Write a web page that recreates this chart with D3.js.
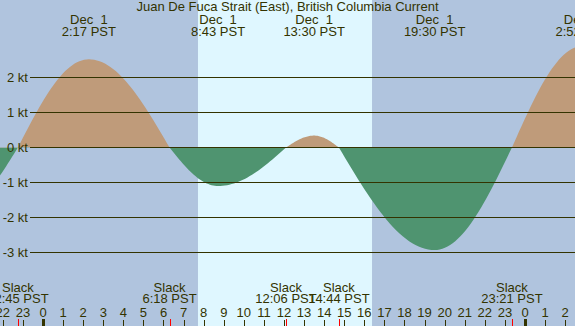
<!DOCTYPE html>
<html>
<head>
<meta charset="utf-8">
<script src="https://cdn.jsdelivr.net/npm/d3@7"></script>
<style>
  body { margin: 0; background: #b0c4de; }
  svg { display: block; }
  text { font-family: "Liberation Sans", Arial, sans-serif; font-size: 13px; fill: #333300; white-space: pre; }
</style>
</head>
<body>
<script>
// tide current events (hours from midnight Dec 1, PST)
const eventHours = [-4.2, -1.25, 2.283, 6.3, 8.717, 12.1, 13.5, 14.733, 19.5, 23.35, 26.87];
const eventKts   = [-1.75, 0, 2.52, 0, -1.1, 0, 0.34, 0, -2.93, 0, 2.9];
const eventDays  = ["Nov 30", "Nov 30", "Dec  1", "Dec  1", "Dec  1", "Dec  1", "Dec  1", "Dec  1", "Dec  1", "Dec  1", "Dec  2"];
const eventTimes = ["19:48 PST", "22:45 PST", "2:17 PST", "6:18 PST", "8:43 PST", "12:06 PST", "13:30 PST", "14:44 PST", "19:30 PST", "23:21 PST", "2:52 PST"];

const ktTicks = [2, 1, 0, -1, -2, -3];
const hourTicks = d3.range(-2, 27);   // 22 (Nov 30) .. 2 (Dec 2)
const daylight = [7.717, 16.383];     // sunrise 7:43, sunset 16:23

const title = "Juan De Fuca Strait (East), British Columbia Current";

const W = 575, H = 326;

const x = d3.scaleLinear().domain([-2.141, 26.49]).range([0, W]);
const y = d3.scaleLinear().domain([-3, 2]).range([252.5, 77.5]);
const z = y(0);

const svg = d3.select("body").append("svg")
    .attr("width", W)
    .attr("height", H);

// night / day background
svg.append("rect")
    .attr("width", W).attr("height", H)
    .attr("fill", "#b0c4de");
svg.append("rect")
    .attr("x", x(daylight[0]))
    .attr("width", x(daylight[1]) - x(daylight[0]))
    .attr("height", H)
    .attr("fill", "#dff7ff");

// curve: quarter sines between slack and max, like the real current
function tideCurve(zero) {
  return function(context) {
    let pt, line, x0, y0;
    function seg(x1, y1) {
      const n = 30;
      const s0 = Math.abs(y0 - zero) < 0.5, s1 = Math.abs(y1 - zero) < 0.5;
      for (let i = 1; i <= n; i++) {
        const u = i / n;
        let yy;
        if (s0 && s1) yy = zero;
        else if (s0) yy = zero + (y1 - zero) * Math.sin(Math.PI / 2 * u);
        else if (s1) yy = zero + (y0 - zero) * Math.cos(Math.PI / 2 * u);
        else yy = y0 + (y1 - y0) * (1 - Math.cos(Math.PI * u)) / 2;
        context.lineTo(x0 + (x1 - x0) * u, yy);
      }
    }
    return {
      areaStart() { line = 0; },
      areaEnd() { line = NaN; },
      lineStart() { pt = 0; },
      lineEnd() {
        if (line || (line !== 0 && pt === 1)) context.closePath();
        line = 1 - line;
      },
      point(px, py) {
        px = +px; py = +py;
        if (pt === 0) {
          pt = 1;
          line ? context.lineTo(px, py) : context.moveTo(px, py);
        } else {
          pt = 2;
          seg(px, py);
        }
        x0 = px; y0 = py;
      }
    };
  };
}

const events = eventHours.map((h, i) => ({ h: h, v: eventKts[i], day: eventDays[i], time: eventTimes[i] }));

const area = d3.area()
    .x(d => x(d.h))
    .y0(z)
    .y1(d => y(d.v))
    .curve(tideCurve(z));

const defs = svg.append("defs");
defs.append("clipPath").attr("id", "flood")
  .append("rect").attr("x", 0).attr("y", 0).attr("width", W).attr("height", z);
defs.append("clipPath").attr("id", "ebb")
  .append("rect").attr("x", 0).attr("y", z).attr("width", W).attr("height", H - z);

svg.append("path")
    .datum(events)
    .attr("d", area)
    .attr("fill", "#bf9b7a")
    .attr("clip-path", "url(#flood)");
svg.append("path")
    .datum(events)
    .attr("d", area)
    .attr("fill", "#4f9470")
    .attr("clip-path", "url(#ebb)");

// kt grid lines and labels
svg.selectAll(".grid")
  .data(ktTicks)
  .join("line")
    .attr("x1", 30).attr("x2", W)
    .attr("y1", d => y(d)).attr("y2", d => y(d))
    .attr("stroke", "#333300");

svg.selectAll(".ktlab")
  .data(ktTicks)
  .join("text")
    .attr("x", 28)
    .attr("y", d => y(d) + 4)
    .attr("text-anchor", "end")
    .text(d => d + " kt");

svg.append("text")
    .attr("x", W / 2)
    .attr("y", 11)
    .attr("text-anchor", "middle")
    .text(title);

// max flood / ebb labels at top, slack labels at bottom (only those near the window)
const inView = d => x(d.h) > -30 && x(d.h) < W + 30;
const maxes = events.filter(d => d.v !== 0 && inView(d));
const slacks = events.filter(d => d.v === 0 && inView(d));

const maxLabels = svg.selectAll(".maxlab")
  .data(maxes)
  .join("text")
    .attr("text-anchor", "middle");
maxLabels.append("tspan").attr("x", d => x(d.h)).attr("y", 24).text(d => d.day);
maxLabels.append("tspan").attr("x", d => x(d.h)).attr("y", 36).text(d => d.time);

const slackLabels = svg.selectAll(".slacklab")
  .data(slacks)
  .join("text")
    .attr("text-anchor", "middle");
slackLabels.append("tspan").attr("x", d => x(d.h)).attr("y", 292).text("Slack");
slackLabels.append("tspan").attr("x", d => x(d.h)).attr("y", 303).text(d => d.time);

// hour axis
svg.selectAll(".hourlab")
  .data(hourTicks)
  .join("text")
    .attr("x", d => x(d))
    .attr("y", 317)
    .attr("text-anchor", "middle")
    .text(d => ((d % 24) + 24) % 24);

svg.selectAll(".hourtick")
  .data(hourTicks)
  .join("line")
    .attr("x1", d => Math.round(x(d)) + 0.5)
    .attr("x2", d => Math.round(x(d)) + 0.5)
    .attr("y1", d => d % 24 === 0 ? 319 : 320)
    .attr("y2", H)
    .attr("stroke", "#333300")
    .attr("stroke-width", d => d % 24 === 0 ? 3 : 1);

svg.selectAll(".slacktick")
  .data(slacks)
  .join("line")
    .attr("x1", d => Math.round(x(d.h)) + 0.5)
    .attr("x2", d => Math.round(x(d.h)) + 0.5)
    .attr("y1", 319)
    .attr("y2", H)
    .attr("stroke", "#ff0000");
</script>
</body>
</html>
